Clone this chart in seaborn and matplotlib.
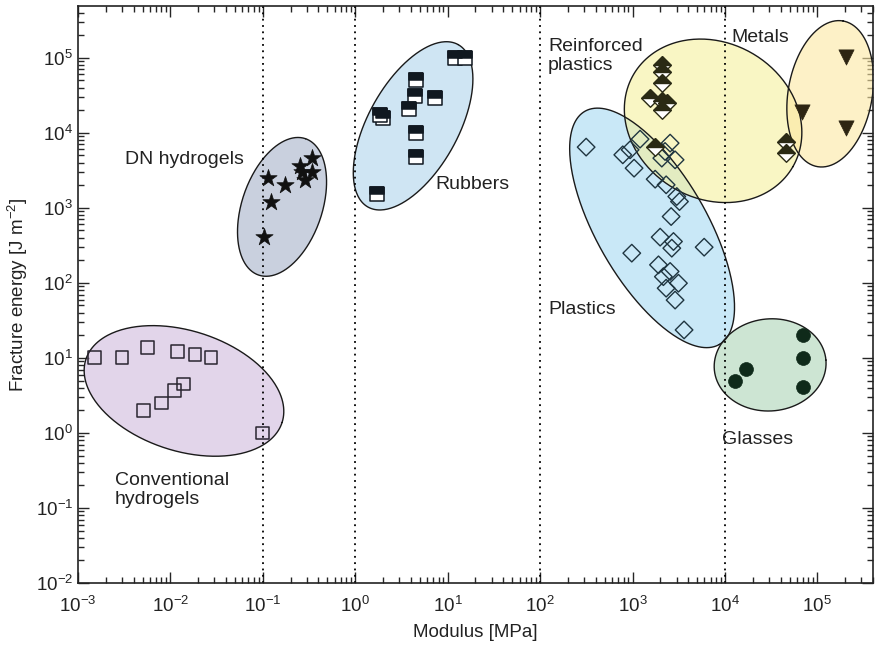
import numpy as np
import matplotlib
matplotlib.use('Agg')
import matplotlib.pyplot as plt
from matplotlib.markers import MarkerStyle
from matplotlib.ticker import LogLocator, NullFormatter
import seaborn as sns

# modulus [MPa] and fracture energy [J m^-2]
conv_mod = [0.0015, 0.003, 0.0056, 0.012, 0.0185, 0.0275, 0.0051, 0.008, 0.011, 0.014, 0.1]
conv_energy = [10.1, 10.1, 13.9, 12.1, 11.2, 10.1, 2.0, 2.5, 3.7, 4.5, 1.0]

dn_mod = [0.115, 0.174, 0.122, 0.103, 0.253, 0.338, 0.286, 0.338, 0.264]
dn_energy = [2490, 2030, 1210, 407, 3560, 4590, 2360, 2960, 3050]

rub_mod = [12.0, 15.4, 4.6, 4.4, 7.3, 3.8, 2.0, 1.85, 4.6, 4.6, 1.7]
rub_energy = [99000, 99000, 50900, 31200, 29000, 20700, 15700, 17400, 9900, 4700, 1540]

plast_mod = [315, 785, 1208, 1040, 1758, 2312, 2553, 2890, 2075, 3013, 3222, 2618, 1991,
             2775, 2661, 5960, 982, 1910, 2553, 3141, 2312, 2890, 3614, 2158, 942, 2250]
plast_energy = [6450, 5090, 8240, 3380, 2411, 2027, 7290, 4365, 4600, 1416, 1213, 766, 407,
                356, 290, 299, 249, 174, 142, 99, 85, 59, 23.6, 121, 5935, 5640]

reinf_mod = [2075, 2075, 2075, 1550, 2075, 2350, 2075, 1760, 45900, 45900]
reinf_energy = [80700, 65600, 46000, 29000, 26150, 24900, 20300, 6570, 7660, 5360]

metal_mod = [205000, 67900, 205000]
metal_energy = [104000, 19200, 11500]

glass_mod = [12900, 17000, 69700, 69700, 69700]
glass_energy = [5.0, 7.1, 20.3, 10.1, 4.06]

x_ticks = [1e-3, 1e-2, 1e-1, 1e0, 1e1, 1e2, 1e3, 1e4, 1e5]
y_ticks = [1e-2, 1e-1, 1e0, 1e1, 1e2, 1e3, 1e4, 1e5]

sns.set_style('ticks')
plt.rcParams['font.family'] = ['Liberation Sans', 'DejaVu Sans']
plt.rcParams['mathtext.default'] = 'regular'

fig = plt.figure(figsize=(8.78, 6.45), dpi=100)
ax = fig.add_axes([0.0888, 0.0961, 0.9055, 0.8946])
ax.set_xscale('log')
ax.set_yscale('log')

# y decades per x decade on screen, so the blobs come out as real ellipses
ASPECT = 92.4 / 75


def blob(cx, cy, a, b, ang, color):
    t = np.linspace(0, 2 * np.pi, 300)
    th = np.deg2rad(ang)
    u = a * np.cos(t) * np.cos(th) - b * np.sin(t) * np.sin(th)
    v = a * np.cos(t) * np.sin(th) + b * np.sin(t) * np.cos(th)
    ax.fill(10 ** (cx + u), 10 ** (cy + v * ASPECT), facecolor=color, alpha=0.6,
            edgecolor='none', zorder=2)
    ax.plot(10 ** (cx + u), 10 ** (cy + v * ASPECT), color='#1a1a1a', lw=1.0, zorder=2.2)


blob(-1.853, 0.56, 1.115, 0.65, -17.8, '#cfb9dc')   # conventional hydrogels
blob(-0.792, 3.013, 0.78, 0.433, 71, '#a5b1c8')    # DN hydrogels
blob(0.626, 4.093, 1.005, 0.487, 61, '#afd4eb')    # rubbers
blob(3.212, 2.733, 1.456, 0.595, -60, '#a5d9f3')   # plastics
blob(3.872, 4.16, 0.996, 0.844, -30, '#f5f09d')    # reinforced plastics
blob(5.139, 4.52, 0.80, 0.455, 80, '#fce8a3')      # metals
blob(4.489, 0.907, 0.606, 0.498, 5, '#acd5b6')     # glasses

for xv in [0.1, 1, 100, 1e4]:
    ax.axvline(xv, color='black', lw=1.3, ls=(0, (1, 2.5)), zorder=2.5)

sns.scatterplot(x=conv_mod, y=conv_energy, marker='s', s=85, facecolor='none',
                edgecolor='#2a2530', linewidth=1.1, ax=ax, zorder=3)
sns.scatterplot(x=dn_mod, y=dn_energy, marker='*', s=170, color='#111111',
                edgecolor='#111111', linewidth=0.5, ax=ax, zorder=3)
sns.scatterplot(x=rub_mod, y=rub_energy, marker='s', s=90, facecolor='white',
                edgecolor='#101820', linewidth=1.1, ax=ax, zorder=3)
sns.scatterplot(x=rub_mod, y=rub_energy, marker=MarkerStyle('s', fillstyle='top'), s=90,
                color='#101820', edgecolor='#101820', linewidth=1.1, ax=ax, zorder=3.1)
sns.scatterplot(x=plast_mod, y=plast_energy, marker='D', s=80, facecolor='none',
                edgecolor='#1f3540', linewidth=1.0, ax=ax, zorder=3)
sns.scatterplot(x=reinf_mod, y=reinf_energy, marker='D', s=80, facecolor='white',
                edgecolor='#2a2a14', linewidth=1.0, ax=ax, zorder=3)
sns.scatterplot(x=reinf_mod, y=reinf_energy, marker=MarkerStyle('D', fillstyle='top'), s=80,
                color='#2a2a14', edgecolor='#2a2a14', linewidth=1.0, ax=ax, zorder=3.1)
sns.scatterplot(x=metal_mod, y=metal_energy, marker='v', s=120, color='#2d2512',
                edgecolor='#2d2512', linewidth=0.5, ax=ax, zorder=3)
sns.scatterplot(x=glass_mod, y=glass_energy, marker='o', s=100, color='#0f2a1a',
                edgecolor='#0f2a1a', linewidth=0.5, ax=ax, zorder=3)

# group names
fs = 14
ax.text(3.2e-3, 4370, 'DN hydrogels', fontsize=fs, va='center', color='#222222')
ax.text(7.3, 2030, 'Rubbers', fontsize=fs, va='center', color='#222222')
ax.text(122, 1.06e5, 'Reinforced\nplastics', fontsize=fs, va='center', color='#222222',
        linespacing=1.15)
ax.text(11700, 1.85e5, 'Metals', fontsize=fs, va='center', color='#222222')
ax.text(122, 43.7, 'Plastics', fontsize=fs, va='center', color='#222222')
ax.text(9330, 0.807, 'Glasses', fontsize=fs, va='center', color='#222222')
ax.text(2.5e-3, 0.174, 'Conventional\nhydrogels', fontsize=fs, va='center', color='#222222',
        linespacing=1.15)

ax.set_xlabel('Modulus [MPa]', fontsize=13.5, color='#222222', labelpad=6)
ax.set_ylabel('Fracture energy [J m$^{-2}$]', fontsize=13.5, color='#222222')

ax.set_xticks(x_ticks)
ax.set_yticks(y_ticks)
for axis in [ax.xaxis, ax.yaxis]:
    axis.set_minor_locator(LogLocator(base=10, subs=np.arange(2, 10), numticks=20))
    axis.set_minor_formatter(NullFormatter())
ax.set_xlim(1e-3, 4.0e5)
ax.set_ylim(1e-2, 4.9e5)
ax.tick_params(which='both', direction='in', top=True, right=True, width=1.0,
               labelsize=13.5, labelcolor='#222222')
ax.tick_params(which='major', length=8)
ax.tick_params(which='minor', length=4)
ax.tick_params(axis='x', which='major', pad=9)
for sp in ax.spines.values():
    sp.set_linewidth(1.2)
    sp.set_color('#222222')

fig.savefig('out.png', dpi=100)
